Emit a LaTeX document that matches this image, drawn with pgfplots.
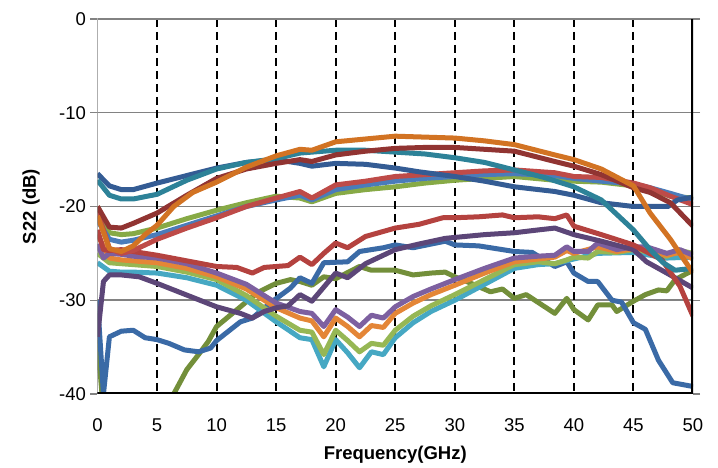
\documentclass[border=0pt]{standalone}
\usepackage{fontspec}
\setmainfont{Liberation Sans}
\usepackage{pgfplots}
\pgfplotsset{compat=1.18}
\definecolor{cDarkBlue}{RGB}{52,92,148}
\definecolor{cTealD}{RGB}{45,130,152}
\definecolor{cRedD}{RGB}{145,52,50}
\definecolor{cOrangeD}{RGB}{210,115,35}
\definecolor{cRed}{RGB}{190,75,72}
\definecolor{cBlue}{RGB}{74,124,186}
\definecolor{cGreen}{RGB}{135,170,70}
\definecolor{cRedL}{RGB}{180,66,63}
\definecolor{cPurpD}{RGB}{92,70,120}
\definecolor{cPurp}{RGB}{125,96,160}
\definecolor{cOrange}{RGB}{228,134,55}
\definecolor{cGreenL}{RGB}{150,183,84}
\definecolor{cTeal}{RGB}{70,168,195}
\definecolor{cBlueL}{RGB}{58,106,166}
\definecolor{cGreenD}{RGB}{115,143,58}
\definecolor{cGrid}{RGB}{130,130,130}
\begin{document}
\begin{tikzpicture}[x=1pt,y=1pt]
\useasboundingbox (-97.5,-74) rectangle (620.5,394);
\begin{axis}[
  at={(0,0)}, anchor=south west,
  scale only axis, width=595.5pt, height=375pt,
  xmin=0, xmax=50, ymin=-40, ymax=0,
  clip=true,
  axis line style={draw=none},
  xtick={0,5,...,50},
  xticklabels={0,5,10,15,20,25,30,35,40,45,50},
  ytick={-40,-30,-20,-10,0},
  yticklabels={{-40},{-30},{-20},{-10},{0}},
  tick align=outside,
  major tick length=7pt,
  xtick style={draw=none},
  ytick style={draw=cGrid, line width=1.3pt},
  ticklabel style={font=\fontsize{18.5}{22}\selectfont},
  xticklabel style={yshift=-14pt},
  yticklabel style={xshift=-1pt},
  xlabel={\textbf{Frequency(GHz)}},
  ylabel={\textbf{S22 (dB)}},
  label style={font=\fontsize{18.5}{22}\selectfont},
  xlabel style={at={(axis description cs:0.5,-0.1627)}, anchor=center},
  ylabel style={at={(axis description cs:-0.1117,0.5)}, anchor=center},
  every axis plot/.append style={line width=5pt, line join=round, no markers},
]
% grid
\pgfplotsinvokeforeach{-10,-20,-30}{
  \draw[cGrid, line width=1.5pt] (axis cs:0,#1) -- (axis cs:50,#1);
}
\pgfplotsinvokeforeach{5,10,...,45}{
  \draw[black, line width=2pt, dash pattern=on 8pt off 5pt] (axis cs:#1,0) -- (axis cs:#1,-40);
}
% lower group
\addplot[cGreenD] coordinates {(0,-34.2) (0.7,-45) (5.5,-45) (6.4,-40) (7.5,-37.4) (8.6,-35.6) (9.3,-34.4) (10,-32.8) (12,-30.7) (13.4,-29.2) (15,-28.2) (16.2,-27.8) (17,-28) (18,-28.4) (19,-27.5) (20,-27.7) (22,-26.4) (23,-26.8) (25,-26.8) (26.5,-27.3) (28,-27.1) (29.2,-27) (30,-27.5) (31,-28) (33,-29.1) (34,-28.8) (35,-29.8) (36,-29.4) (38.4,-31.4) (39.4,-29.8) (40,-31) (41.2,-32.1) (42,-30.5) (43.2,-30.5) (43.6,-31.2) (45,-30.1) (46,-29.4) (47.1,-28.9) (47.8,-29) (48.5,-27.8) (50,-26.8)};
\addplot[cBlueL] coordinates {(0,-30) (0.5,-40) (1,-33.9) (2,-33.3) (3,-33.2) (4,-34) (5,-34.2) (6,-34.6) (7.3,-35.3) (8.5,-35.5) (9.5,-35.1) (10,-34.3) (12,-32.3) (13,-31.9) (14.5,-30.3) (16.2,-28.7) (17,-27.6) (18,-28.2) (19,-26) (21,-25.9) (22,-24.8) (24,-24.4) (25,-24.1) (26.5,-24.4) (29.2,-23.7) (30,-24.1) (32,-24.2) (35,-24.8) (36.5,-24.9) (38.4,-26.4) (39.4,-25.9) (40,-27.1) (41.2,-28) (42,-28) (43.2,-30) (44,-30.2) (45,-32.4) (46,-33.1) (47.1,-36.4) (48.3,-38.8) (50,-39.2)};
\addplot[cTeal] coordinates {(0,-26) (1,-26.9) (2,-27) (3,-27) (5,-27.1) (7.5,-27.6) (10,-28.4) (12.5,-30) (15,-32.3) (17,-34) (18,-34.2) (19,-37.1) (20,-34.2) (21,-35.6) (22,-37.2) (23,-35.5) (24,-35.8) (25,-34) (26.5,-32.4) (28,-31.2) (30,-30) (32.5,-28.3) (35,-26.6) (37,-26.2) (38.4,-26.1) (40,-25.6) (42,-25) (45,-24.9) (47.8,-25.5) (50,-25.4)};
\addplot[cGreenL] coordinates {(0,-25) (1,-26) (2,-26.1) (3,-26.2) (5,-26.4) (7.5,-27) (10,-27.8) (12.5,-29.5) (15,-31.7) (17,-33.2) (18,-33.4) (19,-35.8) (20,-33.2) (21,-34.3) (22,-35.5) (23,-34.6) (24,-34.8) (25,-33.2) (26.5,-31.7) (28,-30.6) (30,-29.4) (32.5,-27.8) (35,-26.2) (37,-25.9) (38.4,-26.1) (39.4,-25.7) (40,-25.4) (41.2,-25.5) (42,-24.8) (43.6,-24.9) (45,-24.6) (46.1,-24.8) (47.8,-25.3) (48.9,-24.7) (50,-25)};
\addplot[cOrange] coordinates {(0,-23) (1,-25.5) (2,-25.7) (3,-25.8) (5,-26) (7.5,-26.6) (10,-27.5) (12.5,-28.8) (15,-30.8) (17,-31.9) (18,-32.2) (19,-33.9) (20,-31.9) (21,-32.8) (22,-33.9) (23,-32.7) (24,-32.9) (25,-31.4) (26.5,-30.3) (28,-29.4) (30,-28.4) (32.5,-27.1) (35,-25.9) (37,-25.6) (38.4,-25.4) (39.4,-24.7) (40,-25) (42,-24.3) (43.6,-24.8) (45,-24.5) (46.1,-24.6) (47.8,-25.2) (48.9,-24.9) (50,-25.6)};
\addplot[cPurp] coordinates {(0,-24) (0.5,-25.5) (1,-25) (2,-25.1) (3,-25.3) (5,-25.5) (7.5,-26.1) (10,-27.1) (12.5,-28.3) (15,-30.3) (17,-31.2) (18,-31.4) (19,-32.8) (20,-31) (21,-31.8) (22,-32.8) (23,-31.6) (24,-31.9) (25,-30.7) (26.5,-29.6) (28,-28.8) (30,-27.8) (32.5,-26.6) (35,-25.5) (37,-25.3) (38.4,-25.2) (39.4,-24.3) (40,-24.8) (41.2,-24.8) (42,-23.9) (43.6,-24.6) (45,-24.3) (46.1,-24.3) (47.8,-25) (48.9,-24.6) (50,-25.2)};
\addplot[cPurpD] coordinates {(0,-33.9) (0.5,-28) (1,-27.3) (2,-27.3) (3.5,-27.5) (5,-28.2) (7,-29.2) (10,-30.7) (12,-31.4) (13,-31.9) (14,-31.2) (15,-30.8) (16,-30.6) (17,-29.4) (18,-30.1) (20,-27.1) (21,-27.6) (22.5,-26.1) (25,-24.6) (27,-24) (29.2,-23.4) (30,-23.3) (32.5,-23) (35,-22.8) (37,-22.5) (38.4,-22.3) (40,-23) (42.3,-23.7) (45,-24.6) (46.1,-25.9) (47.8,-27.1) (50,-28.7)};
\addplot[cRedL] coordinates {(0,-22.5) (0.5,-24.6) (1,-24.7) (2,-24.6) (3,-24.8) (5,-25.2) (7.5,-25.8) (10,-26.4) (11.7,-26.5) (13,-27.1) (14,-26.5) (15,-26.4) (16,-26.3) (17,-25.4) (18,-26.2) (19,-25) (20,-23.9) (21,-24.4) (22.5,-23.2) (25,-22.3) (27,-21.9) (29,-21.2) (30,-21.2) (32,-21.1) (34,-20.9) (35,-21.2) (37,-21.1) (38.4,-21.3) (39.4,-20.9) (40,-22.1) (42.3,-23) (45,-24.1) (47.4,-25.7) (48.9,-28.5) (50,-31.7)};
% middle group
\addplot[cGreen] coordinates {(0,-20) (1,-22.8) (2,-23) (3,-22.9) (5,-22.3) (7.5,-21.3) (10,-20.4) (12.5,-19.6) (15,-18.9) (17,-19.1) (18,-19.5) (20,-18.6) (22.5,-18.2) (25,-17.9) (27.5,-17.5) (30,-17.2) (32.5,-17) (35,-16.8) (38.4,-17.2) (40,-17.3) (42.3,-17.4) (45,-17.8) (46.4,-18.2) (48.1,-18.9) (50,-19.1)};
\addplot[cBlue] coordinates {(0,-21.5) (1,-23.5) (2,-23.8) (3,-23.6) (5,-23) (7.5,-22) (10,-21) (12.5,-20) (15,-19.3) (17,-18.8) (18,-19.3) (20,-18.2) (22.5,-17.7) (25,-17.3) (27.5,-17) (30,-16.8) (32.5,-16.6) (35,-16.5) (38.4,-16.7) (40,-17) (42.3,-17.3) (45,-17.6) (46.4,-18) (48.1,-18.6) (50,-19.3)};
\addplot[cRed] coordinates {(0,-20.5) (1,-24.5) (2,-25) (3,-24.7) (5,-23.5) (7.5,-22.3) (10,-21.2) (12.5,-20) (15,-19.1) (17,-18.4) (18,-19.1) (20,-17.7) (22.5,-17.3) (25,-16.8) (27.5,-16.6) (30,-16.4) (32.5,-16.2) (35,-16.1) (38.4,-16.4) (40,-16.8) (42.3,-16.9) (45,-17.5) (46.4,-18) (48.1,-18.9) (50,-19.8)};
% top group
\addplot[cDarkBlue] coordinates {(0,-16.5) (1,-17.8) (2,-18.2) (3,-18.2) (5,-17.5) (7.5,-16.7) (10,-15.9) (12.5,-15.3) (15,-15) (17,-15.4) (18,-15.7) (20,-15.4) (22.5,-15.5) (25,-15.9) (27,-16.3) (30,-16.8) (32.5,-17.3) (35,-17.9) (38.4,-18.4) (40,-18.8) (42.3,-19.6) (45,-20) (47.9,-20) (48.7,-19.3) (50,-19)};
\addplot[cTealD] coordinates {(0,-17.2) (1,-18.8) (2,-19.2) (3,-19.2) (5,-18.7) (7.5,-17.2) (10,-16) (12.5,-15.3) (15,-14.9) (17,-14.3) (20,-14) (22.5,-14) (25,-14.2) (27.5,-14.4) (30,-14.8) (32.5,-15.3) (35,-16.1) (37.5,-16.9) (40,-17.9) (42.3,-19.3) (45,-22.5) (46.4,-24.6) (47.5,-26) (48.5,-26.8) (50,-26.6)};
\addplot[cRedD] coordinates {(0,-20) (1,-22.2) (2,-22.3) (3,-21.8) (5,-20.7) (7.5,-18.8) (10,-17) (12.5,-16) (15,-15.4) (17,-15) (18,-15.2) (20,-14.5) (22.5,-14.1) (25,-13.8) (27.5,-13.7) (30,-13.7) (32.5,-13.9) (35,-14.1) (38.4,-15.2) (40,-15.7) (42.3,-16.6) (45,-18) (46.4,-18.5) (48.1,-19.6) (50,-22.1)};
\addplot[cOrangeD] coordinates {(0,-21) (1,-24.5) (2,-24.8) (3,-24.2) (4,-23) (5,-22) (6.4,-20) (8,-18.5) (10,-17.4) (12.5,-15.8) (15,-14.6) (17,-13.9) (18,-14) (20,-13.1) (22.5,-12.8) (25,-12.5) (27.5,-12.6) (30,-12.7) (32.5,-13) (35,-13.4) (38.4,-14.5) (40,-15) (42.3,-16) (45,-17.8) (46.4,-20.7) (48.1,-23.5) (50,-27.1)};
% frame
\draw[cGrid, line width=2pt] (axis cs:0,-40) -- (axis cs:0,0) -- (axis cs:50,0);
\draw[black, line width=3.2pt] (axis cs:0,-40) -- (axis cs:50,-40) -- (axis cs:50,0);
\end{axis}
\end{tikzpicture}
\end{document}
